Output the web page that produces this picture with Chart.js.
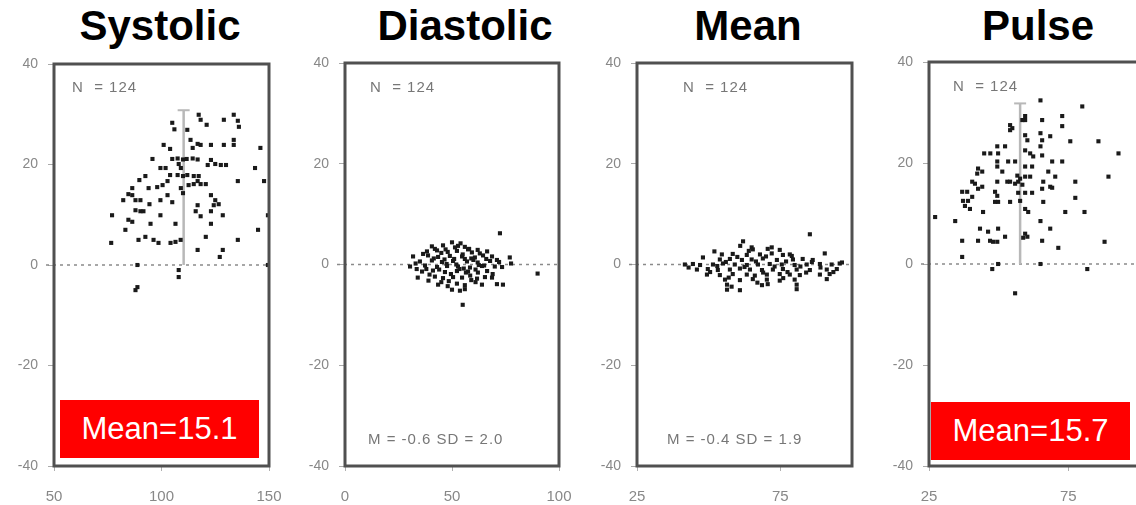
<!DOCTYPE html>
<html><head><meta charset="utf-8">
<script src="https://cdn.jsdelivr.net/npm/chart.js@4.4.1/dist/chart.umd.min.js"></script>
<style>
html,body{margin:0;padding:0;background:#fff;overflow:hidden;width:1136px;height:505px;position:relative;}
canvas{position:absolute;top:0;}
.title{position:absolute;top:2px;line-height:46px;font:bold 42px "Liberation Sans",Arial,sans-serif;color:#000;transform:translateX(-50%);white-space:nowrap;}
.redbox{position:absolute;background:#ff0000;color:#fff;font:31px "Liberation Sans",Arial,sans-serif;display:flex;align-items:center;justify-content:center;}
</style></head>
<body>
<div class="title" style="left:160px">Systolic</div>
<div class="title" style="left:465px">Diastolic</div>
<div class="title" style="left:748px">Mean</div>
<div class="title" style="left:1038px">Pulse</div>
<canvas id="c1"></canvas><canvas id="c2"></canvas><canvas id="c3"></canvas><canvas id="c4"></canvas>
<div class="redbox" style="left:60px;top:400px;width:199px;height:58px">Mean=15.1</div>
<div class="redbox" style="left:931px;top:402px;width:199px;height:58px">Mean=15.7</div>
<script>
// ---- data ----
const panelTitles = ["Systolic", "Diastolic", "Mean", "Pulse"];
const yTicks = [-40, -20, 0, 20, 40];
const sysXTicks = [50, 100, 150];
const diaXTicks = [0, 50, 100];
const meanXTicks = [25, 75];
const pulseXTicks = [25, 75];

const sysX = [117.3,118.2,121,129,133.6,135.5,136,105,106,112,113.5,116.8,118.2,114.5,123,129,133.6,133.6,146,101,104,95.8,
  105,107.5,110,111.7,114.5,116.8,108,109,123,121.5,125,127.6,130,99.5,101.9,143.5,92.5,89.7,104,107.5,110,112,115,117.3,116.8,
  135.5,147.7,102.8,100.5,98,94,109,110,112.6,115,118.2,120.6,86.4,86.4,84.6,82.2,87.9,90.2,99.5,102.8,105,94.4,123,125,126.6,
  124.3,116.8,115.9,87.9,90.2,91.6,123,77,99.5,118.2,128.5,149.5,84.6,86.4,106.5,94.9,123,83.2,144.9,92.5,89.3,96.3,98.6,104.2,
  106.5,108.9,76.6,120.6,135.5,116.8,128.5,127.1,88.8,108,108,88.8,87.9,149.5];
const sysY = [29.9,28.9,27.9,28.9,29.9,28.7,27.5,28.3,27,26.9,24.9,24.1,23.9,23.3,23.9,23.9,24.9,23.9,23.3,23.9,23.1,21.1,
  21.1,21.2,21.0,21.1,21.2,21.0,20.1,19.3,20.9,19.9,20.1,19.9,19.9,19.3,19.3,19.3,17.7,16.9,17.9,17.9,17.7,17.9,17.7,17.7,16.7,
  16.7,16.7,16.7,15.9,15.5,15.3,15.3,14.3,15.9,16.1,16.1,16.1,15.3,13.9,14.1,12.9,12.9,12.9,12.9,13.9,12.5,12.1,13.9,12.9,12.1,
  11.9,11.9,10.7,10.9,10.7,10.7,10.7,9.9,9.9,9.7,9.9,9.9,9.0,8.6,8.2,8.2,8.2,7.0,7.0,5.6,5.0,5.0,4.4,4.4,
  4.6,5.0,4.4,5.6,5.0,3.0,3.0,1.6,0,-1,-2.4,-4.4,-5,0];

const diaX = [72.4,77,77.6,90,55,
  40.6,45.8,51.4,52.8,56,
  38.3,43,48,52.3,59.3,66.4,
  31.8,38.8,43.5,49,54.7,60.7,64.5,68.7,
  35,40.6,45.3,50.5,57,62,67.8,
  30.4,37.4,43,47.7,52.8,58.4,64,70,73.4,
  36,41.1,46.7,52.3,57.5,62.1,66.4,
  34,42,45.8,50.5,54.7,61.7,65.4,68.7,
  43.5,52.3,56,64,71,73.8,
  50,53.7,56,
  47,58,62,39,48.5,59,46.5,56,71,33.5,55.5,61,
  33,36.5,39.5,41.5,44,45,47.5,49.5,51,53.5,55,57.5,58.5,60,61,63,65,66,69,72,48,45,54,50,42,62.5,52,59,38,56.5];
const diaY = [6.2,1.4,0.2,-1.8,-8,
  3.6,3.8,3.4,3.7,3.5,
  2.6,2.8,2.5,2.7,2.4,2.6,
  1.6,1.8,1.5,1.7,1.6,1.4,1.8,1.6,
  0.6,0.8,0.5,0.7,0.6,0.4,0.7,
  -0.4,-0.2,-0.5,-0.3,-0.4,-0.6,-0.3,-0.4,-0.5,
  -1.4,-1.2,-1.5,-1.3,-1.4,-1.6,-1.3,
  -2.6,-2.4,-2.7,-2.5,-2.6,-2.8,-2.5,-2.6,
  -4,-3.8,-4.1,-4,-3.9,-4,
  -5,-5.2,-4.9,
  3.0,3.1,2.9,-3.2,-3.3,-3.1,1.0,1.1,0.9,-0.9,-0.8,-1.0,
  0.2,2.1,-2.0,1.2,-1.0,2.3,0.1,-1.9,1.1,-0.9,2.0,3.0,-2.2,0.9,-3.5,2.2,-0.2,1.1,-1.9,0.5,-4.3,-3.5,4.2,4.4,3.1,-0.1,0.0,1.2,-0.9,-1.6];

const meanX = [85.3,62,90.5,65,
  65.4,70.6,74.8,
  54.6,58.4,63.3,67.9,72,75.9,78.3,
  53.9,57.4,61.6,65,68.9,73.8,79.4,82.8,86.3,
  41.7,44.5,47,51.5,55,59.1,63.3,67.2,71.3,75.5,80,84.2,88.8,92.9,95.7,
  45.9,49.7,53.2,57.4,60.9,64.4,68.6,72.4,75.9,80.7,85.3,91.2,94.7,
  49.4,53.9,58.4,63.3,66.1,70.3,74.8,78.3,81.8,88.8,92.2,
  55.7,60.9,65.4,70.3,74.8,80,91.2,
  56.4,68.6,70.6,80.7,
  56.4,60.9,80.7,
  43,48,50.5,52,56,57,60,62.5,64,66.5,69,70,73,77,77.5,79,82,84,86,89,93.5,96.5,61,67,58,72,76,53];
const meanY = [6.0,4.6,2.2,3.4,
  3.0,3.1,2.9,
  2.0,2.1,1.9,2.0,2.2,1.9,2.0,
  1.0,1.1,0.9,1.0,1.2,0.9,1.0,1.1,0.9,
  0,0.1,-0.1,0,0.2,0,-0.1,0,0.1,0,-0.1,0,0.1,0,0.2,
  -1.0,-0.9,-1.1,-1.0,-0.8,-1.0,-1.1,-1.0,-0.9,-1.0,-1.1,-1.0,-0.9,
  -2.0,-2.1,-1.9,-2.0,-2.2,-2.0,-1.9,-2.0,-2.1,-2.0,-1.9,
  -3.0,-3.1,-2.9,-3.0,-3.2,-3.0,-2.9,
  -4.0,-4.1,-3.9,-4.0,
  -5.0,-5.1,-4.9,
  -0.6,1.4,-1.5,2.6,0.5,-2.6,1.5,-0.5,2.7,0.6,-1.6,1.6,-0.4,0.6,-1.5,1.7,-0.4,-1.6,0.5,-0.6,-1.5,0.4,3.7,-3.6,-4.4,3.4,-2.7,-0.3];

const pulseX = [65,80,59.5,59.5,72.8,72.8,65.6,58.5,54.1,54.9,54.1,59.5,60.3,65,65.6,68.5,75.7,85.8,93,49.5,52.3,65,65.6,
  44.8,47,49.8,59.5,61.3,62.4,49.5,49.5,53.4,55.9,69.2,72.8,42.6,44.1,42.3,51.3,59.5,62,67.8,70.3,
  56.7,57.7,57,59.5,61.3,55.9,58.5,40.5,41.5,44.1,42.6,49.5,53.1,54.1,66,68.5,69.2,65.6,77.5,89.4,
  36.9,38.7,37.2,39,40.5,37.9,39.7,48.7,49.5,48.7,49.8,54.1,57,59.5,62,57.7,66,77.5,59.5,60.6,44.4,73.9,80.8,
  27.2,34.4,65,68.5,43.3,46.2,49.8,52.3,59.5,60.3,58.8,36.9,42.6,46.9,48,49.5,65.6,88,71.4,36.9,47.7,81.8,55.9,65,49.8];
const pulseY = [32.4,31.2,29.3,28.5,29.3,27.3,28.5,28.5,27.5,26.9,26.5,25.5,24.5,25.9,24.5,25.3,24.3,24.3,21.9,23.3,23.3,23.3,21.5,
  21.9,21.9,21.9,22.5,21.9,21.3,20.3,19.3,20.3,20.3,20.3,20.3,18.9,18.3,17.9,18.3,19.3,19.3,18.3,17.3,
  17.5,16.9,16.3,17.3,17.3,15.9,15.7,16.3,15.9,15.3,14.9,16.3,16.3,16.3,16.3,15.3,15.1,14.9,16.3,17.3,
  14.3,14.3,12.5,12.5,13.3,11.5,10.9,14.3,13.5,12.3,12.3,12.3,14.1,14.1,14.1,12.5,12.3,13.1,10.9,10.3,10.3,10.3,10.3,
  9.3,8.5,8.5,7,7,6.4,7,5.4,6,5.4,5.2,4.6,4.6,4.6,4.4,4.4,4.6,4.4,3.2,1.4,-1,-1,-5.8,0,0];

// mean-line markers (x position, top value)
const sysMeanLine = [110.3, 30.8];
const pulseMeanLine = [57.7, 31.8];

const notes = {
  sys: ["N  = 124"],
  dia: ["N  = 124", "M = -0.6 SD = 2.0"],
  mean: ["N  = 124", "M = -0.4 SD = 1.9"],
  pulse: ["N  = 124"]
};

// ---- drawing ----
const FONT = '"Liberation Sans", Arial, sans-serif';
const framePlugin = {
  id: 'frame',
  beforeDatasetsDraw(chart) {
    const {ctx, chartArea: a, scales: {y}} = chart;
    const y0 = y.getPixelForValue(0);
    ctx.save();
    ctx.strokeStyle = '#8a8a8a'; ctx.lineWidth = 1.5; ctx.setLineDash([3, 4]);
    ctx.beginPath(); ctx.moveTo(a.left - 8, y0); ctx.lineTo(a.right, y0); ctx.stroke();
    ctx.restore();
  },
  afterDatasetsDraw(chart) {
    const {ctx, chartArea: a} = chart;
    ctx.save();
    ctx.strokeStyle = '#505050'; ctx.lineWidth = 3;
    ctx.strokeRect(a.left, a.top, a.right - a.left, a.bottom - a.top);
    ctx.restore();
  },
  afterDraw(chart, args, opts) {
    const {ctx, chartArea: a} = chart;
    ctx.save();
    ctx.fillStyle = '#777';
    ctx.font = '15px ' + FONT;
    try { ctx.letterSpacing = '1px'; } catch (e) {}
    ctx.textBaseline = 'middle';
    (opts.items || []).forEach(it => {
      ctx.fillText(it.text, a.left + it.dx, it.y);
    });
    ctx.restore();
  }
};

const RIGHT_PAD = 40;
function makePanel(id, xs, ys, xTicks, xmin, xmax, left, right, top, meanLine, noteItems) {
  const canvas = document.getElementById(id);
  const cl = left - 50;
  const cw = right + RIGHT_PAD - cl;
  canvas.width = cw; canvas.height = 505;
  canvas.style.left = cl + 'px';
  canvas.style.width = cw + 'px'; canvas.style.height = '505px';
  const pts = xs.map((x, i) => ({x: x, y: ys[i]}));
  const datasets = [{
    data: pts, order: 1,
    pointStyle: 'rect', pointRadius: 2.9, pointHoverRadius: 2.9,
    backgroundColor: '#1a1a1a', borderWidth: 0
  }];
  if (meanLine) {
    datasets.push({
      type: 'line', order: 2,
      data: [{x: meanLine[0], y: 0}, {x: meanLine[0], y: meanLine[1]}],
      borderColor: '#b8b8b8', borderWidth: 2.5, showLine: true, fill: false,
      pointStyle: 'line', pointRadius: [0, 6], pointBorderColor: '#b8b8b8', pointBorderWidth: 2,
      pointBackgroundColor: '#b8b8b8'
    });
  }
  return new Chart(canvas, {
    type: 'scatter',
    data: {datasets},
    options: {
      responsive: false, animation: false, devicePixelRatio: 1,
      layout: {padding: {left: 0, right: RIGHT_PAD, top: top, bottom: 0}},
      plugins: {legend: {display: false}, tooltip: {enabled: false}, frame: {items: noteItems}},
      scales: {
        x: {
          type: 'linear', min: xmin, max: xmax,
          afterBuildTicks: s => { s.ticks = xTicks.map(v => ({value: v})); },
          afterFit: s => { s.height = 39; },
          grid: {drawOnChartArea: false, drawTicks: true, tickLength: 5, color: '#b0b0b0'},
          border: {display: false},
          ticks: {padding: 17, color: '#888', font: {size: 15, family: FONT}, maxRotation: 0, autoSkip: false}
        },
        y: {
          type: 'linear', min: -40, max: 40,
          afterBuildTicks: s => { s.ticks = yTicks.map(v => ({value: v})); },
          afterFit: s => { s.width = 50; },
          grid: {drawOnChartArea: false, drawTicks: true, tickLength: 6, color: '#aaa'},
          border: {display: false},
          ticks: {padding: 10, color: '#888', font: {size: 14, family: FONT}}
        }
      }
    },
    plugins: [framePlugin]
  });
}

makePanel('c1', sysX, sysY, sysXTicks, 50, 150, 54, 269, 64, sysMeanLine,
  [{text: notes.sys[0], dx: 18, y: 88}]);
makePanel('c2', diaX, diaY, diaXTicks, 0, 100, 345, 559, 63, null,
  [{text: notes.dia[0], dx: 25, y: 88}, {text: notes.dia[1], dx: 23, y: 440}]);
makePanel('c3', meanX, meanY, meanXTicks, 25, 100, 637, 852, 63, null,
  [{text: notes.mean[0], dx: 46, y: 88}, {text: notes.mean[1], dx: 30, y: 440}]);
makePanel('c4', pulseX, pulseY, pulseXTicks, 25, 100, 929, 1138, 62, pulseMeanLine,
  [{text: notes.pulse[0], dx: 24, y: 87}]);
</script>
</body></html>
